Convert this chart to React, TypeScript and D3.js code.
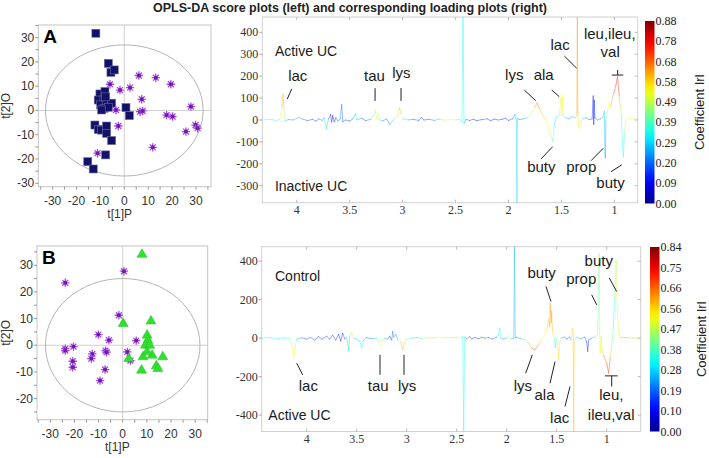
import React from 'react';
import * as d3 from 'd3';

const W = 709;
const H = 458;

// ---------- Score plot data ----------
const squaresA: [number, number][] = [
  [-11.9, 31.8], [-6.7, 19.4], [-5.6, 15.7], [-4.2, 16.7],
  [-10.2, 6.8], [-8.1, 7.8], [-10.9, 4.3], [-8.5, 4.3], [-9.9, 2.3], [-7.4, 3.0],
  [-5.3, 3.0], [-8.5, 0.9], [-6.7, 1.3], [-9.5, 0.2], [-7.8, 5.6],
  [0.7, 1.2], [2.1, -2.1],
  [-12.3, -6.0], [-10.9, -7.8], [-9.5, -8.1], [-7.4, -6.4], [-7.4, -9.4], [-5.3, -12.4],
  [-7.8, -18.3], [-15.3, -21.1], [-13.0, -24.1],
];
const starsA: [number, number][] = [
  [-6.0, 10.8], [-1.8, 8.4], [2.4, 9.4], [6.1, 14.4], [13.2, 13.5], [19.5, 10.8],
  [7.3, 4.6], [-3.5, 0.2], [6.6, -0.5], [7.7, -0.2], [-2.5, -6.4], [17.7, -1.9],
  [20.2, -2.5], [27.9, 1.6], [29.8, -6.0], [30.7, -7.3], [25.8, -8.7], [11.9, -15.2],
  [-11.2, -17.6],
];
const starsB: [number, number][] = [
  [-23.8, 23.4], [0.5, 27.75], [-1.6, 11.25], [-10.1, 4.0], [-5.7, 1.9], [5.6, 1.75],
  [-23.8, -1.25], [-23.8, -2.0], [-20.4, -0.5], [-12.6, -3.25], [-13.0, -5.0],
  [-7.1, -2.0], [-6.7, -2.6], [1.9, -2.5], [-20.7, -6.0], [-20.7, -8.25], [-7.3, -9.1],
  [-9.4, -13.25], [3.2, -5.75],
];
const trianglesB: [number, number][] = [
  [8.0, 34.3], [0.2, 8.4], [11.7, 9.3], [10.1, 4.0], [10.4, 2.1], [9.4, 0.25],
  [11.2, 0.25], [12.2, -3.5], [8.4, -4.1], [7.8, -9.1], [13.9, -7.5], [14.6, -8.5],
  [16.6, -4.1], [2.5, -4.75], [10.1, -2.25],
];
const scoreXTicks = [-30, -20, -10, 0, 10, 20, 30];
const scoreYTicksA = [30, 20, 10, 0, -10, -20, -30];
const scoreYTicksB = [30, 20, 10, 0, -10, -20];

// ---------- Loading data: [ppm, loading, |r|] ----------
const loadingA: [number, number, number][] = [
  [4.32, 0, 0.3], [4.25, 3, 0.35], [4.2, -2, 0.3], [4.16, 2, 0.45], [4.14, 60, 0.6],
  [4.13, 118, 0.65], [4.12, 50, 0.6], [4.11, -5, 0.3], [4.08, 2, 0.25], [4.03, 0, 0.2],
  [3.98, 12, 0.3], [3.95, 5, 0.25], [3.9, -3, 0.15], [3.85, 3, 0.2], [3.82, -5, 0.15],
  [3.79, 5, 0.2], [3.76, -2, 0.2], [3.74, 10, 0.25], [3.72, -40, 0.35], [3.7, 5, 0.2],
  [3.68, 25, 0.15], [3.67, -10, 0.1], [3.66, 20, 0.12], [3.645, -8, 0.1], [3.63, 10, 0.15],
  [3.61, -5, 0.2], [3.59, 3, 0.25], [3.575, 70, 0.2], [3.565, -8, 0.15], [3.54, 0, 0.2],
  [3.5, -5, 0.15], [3.47, 5, 0.2], [3.445, 28, 0.35], [3.43, 0, 0.3], [3.39, 8, 0.2],
  [3.35, -3, 0.15], [3.3, 3, 0.25], [3.275, 20, 0.45], [3.26, 45, 0.5], [3.245, 5, 0.45],
  [3.23, 30, 0.62], [3.215, 0, 0.4], [3.19, -5, 0.2], [3.15, 5, 0.2], [3.12, -20, 0.25],
  [3.09, 0, 0.3], [3.05, 15, 0.5], [3.03, 55, 0.65], [3.015, 30, 0.6], [3.0, 5, 0.4],
  [2.95, 0, 0.25], [2.9, 3, 0.2], [2.85, -2, 0.15], [2.82, 12, 0.15], [2.8, 0, 0.2],
  [2.75, 3, 0.15], [2.7, -2, 0.25], [2.65, 4, 0.3], [2.6, -1, 0.5], [2.55, 3, 0.6],
  [2.5, 0, 0.5], [2.46, 3, 0.3], [2.44, -10, 0.35], [2.43, 480, 0.35], [2.42, -15, 0.3],
  [2.4, 3, 0.2], [2.37, -2, 0.15], [2.33, 3, 0.15], [2.3, -3, 0.12], [2.25, 2, 0.15],
  [2.2, 5, 0.2], [2.17, -3, 0.12], [2.13, 4, 0.15], [2.1, 0, 0.18], [2.06, 3, 0.15],
  [2.03, 8, 0.12], [2.0, -2, 0.15], [1.96, 5, 0.2], [1.94, 25, 0.25], [1.925, -5, 0.3],
  [1.92, -400, 0.3], [1.915, 10, 0.3], [1.9, 2, 0.2], [1.86, 5, 0.2], [1.82, 10, 0.35],
  [1.78, 30, 0.5], [1.75, 60, 0.65], [1.73, 78, 0.7], [1.71, 55, 0.65], [1.68, 25, 0.6],
  [1.65, 0, 0.6], [1.62, -40, 0.5], [1.6, -70, 0.45], [1.58, -98, 0.4], [1.57, -30, 0.35],
  [1.55, 15, 0.3], [1.52, 20, 0.45], [1.505, 100, 0.55], [1.495, 20, 0.5], [1.49, 114, 0.58],
  [1.48, 20, 0.5], [1.46, 10, 0.3], [1.43, 5, 0.2], [1.4, 15, 0.25], [1.37, 10, 0.3],
  [1.355, 20, 0.55], [1.35, 480, 0.7], [1.345, 30, 0.6], [1.335, -40, 0.55], [1.32, -10, 0.5],
  [1.3, 5, 0.3], [1.27, 10, 0.25], [1.24, 2, 0.2], [1.21, 5, 0.15], [1.2, 110, 0.12],
  [1.195, -20, 0.1], [1.19, 90, 0.12], [1.185, 10, 0.15], [1.16, 0, 0.2], [1.13, 5, 0.25],
  [1.11, 10, 0.3], [1.095, 40, 0.3], [1.09, -150, 0.25], [1.085, -173, 0.2], [1.08, 0, 0.3],
  [1.065, 40, 0.55], [1.05, 80, 0.55], [1.035, 60, 0.6], [1.02, 100, 0.65], [1.0, 130, 0.7],
  [0.985, 160, 0.75], [0.97, 198, 0.78], [0.955, 110, 0.7], [0.945, 60, 0.55], [0.935, 20, 0.4],
  [0.925, -100, 0.3], [0.915, -168, 0.35], [0.905, -60, 0.4], [0.89, 0, 0.5], [0.86, 10, 0.55],
  [0.82, 5, 0.5], [0.78, 3, 0.45],
];
const loadingB: [number, number, number][] = [
  [4.45, 0, 0.3], [4.35, 2, 0.35], [4.28, -3, 0.3], [4.22, 2, 0.35], [4.17, -2, 0.3],
  [4.15, -30, 0.5], [4.13, -110, 0.55], [4.12, -60, 0.5], [4.1, -5, 0.3], [4.05, 2, 0.2],
  [4.0, -5, 0.15], [3.96, 3, 0.2], [3.92, -10, 0.15], [3.88, 8, 0.12], [3.85, -5, 0.15],
  [3.8, 10, 0.15], [3.77, -5, 0.12], [3.74, 15, 0.15], [3.71, -10, 0.15], [3.68, 20, 0.12],
  [3.66, -15, 0.1], [3.64, 25, 0.12], [3.62, -5, 0.2], [3.6, 5, 0.3], [3.58, -65, 0.25],
  [3.57, 10, 0.3], [3.55, 30, 0.6], [3.53, 0, 0.3], [3.5, -5, 0.25], [3.47, -15, 0.3],
  [3.45, -50, 0.35], [3.43, -10, 0.3], [3.4, 3, 0.2], [3.35, -3, 0.2], [3.3, 0, 0.3],
  [3.28, -20, 0.45], [3.26, -43, 0.5], [3.24, -10, 0.45], [3.22, 0, 0.3], [3.19, -5, 0.2],
  [3.17, 10, 0.15], [3.15, -10, 0.15], [3.14, 35, 0.2], [3.13, 5, 0.25], [3.11, 20, 0.2],
  [3.09, -5, 0.25], [3.06, -20, 0.5], [3.04, -57, 0.65], [3.02, -20, 0.55], [3.0, -5, 0.4],
  [2.95, 0, 0.3], [2.9, 3, 0.25], [2.85, -2, 0.35], [2.8, 2, 0.5], [2.75, 0, 0.6],
  [2.7, 3, 0.55], [2.65, 0, 0.45], [2.6, 4, 0.5], [2.55, 2, 0.6], [2.5, 5, 0.55],
  [2.46, 0, 0.4], [2.44, 10, 0.35], [2.43, -480, 0.35], [2.42, 5, 0.3], [2.4, -3, 0.2],
  [2.37, 8, 0.15], [2.35, -5, 0.15], [2.32, 3, 0.12], [2.28, -3, 0.15], [2.25, 5, 0.15],
  [2.22, 0, 0.18], [2.18, 3, 0.2], [2.14, -5, 0.15], [2.1, 5, 0.2], [2.08, 20, 0.3],
  [2.07, 52, 0.4], [2.06, 0, 0.3], [2.03, -5, 0.2], [2.0, 0, 0.25], [1.98, 15, 0.6],
  [1.96, -5, 0.3], [1.93, 0, 0.25], [1.92, 480, 0.25], [1.915, 0, 0.25], [1.9, 5, 0.2],
  [1.86, -3, 0.25], [1.82, -8, 0.35], [1.78, -25, 0.55], [1.75, -50, 0.65], [1.72, -62, 0.72],
  [1.69, -40, 0.65], [1.66, -15, 0.55], [1.63, 5, 0.45], [1.6, 40, 0.55], [1.58, 100, 0.6],
  [1.57, 60, 0.55], [1.565, 181, 0.65], [1.555, 80, 0.6], [1.55, 140, 0.62], [1.54, 30, 0.55],
  [1.525, 0, 0.4], [1.515, -50, 0.3], [1.505, 0, 0.35], [1.49, -30, 0.55], [1.48, -112, 0.58],
  [1.47, -20, 0.5], [1.45, 0, 0.3], [1.42, 5, 0.2], [1.4, -5, 0.15], [1.37, 5, 0.2],
  [1.355, -10, 0.3], [1.345, 52, 0.6], [1.335, 20, 0.55], [1.33, -490, 0.6], [1.325, -20, 0.55],
  [1.3, 5, 0.3], [1.26, -3, 0.25], [1.22, 5, 0.2], [1.2, -20, 0.12], [1.19, -69, 0.1],
  [1.18, -10, 0.15], [1.15, 0, 0.25], [1.12, 5, 0.3], [1.09, 20, 0.35], [1.075, 440, 0.45],
  [1.07, 50, 0.5], [1.065, -80, 0.6], [1.055, 10, 0.4], [1.045, -60, 0.55], [1.03, -90, 0.6],
  [1.0, -130, 0.7], [0.98, -182, 0.72], [0.965, -100, 0.65], [0.95, -40, 0.5], [0.935, 50, 0.3],
  [0.92, 200, 0.35], [0.905, 405, 0.5], [0.895, 150, 0.45], [0.88, 30, 0.5], [0.86, 5, 0.6],
  [0.8, 2, 0.6], [0.7, 0, 0.55], [0.65, 0, 0.55],
];
const ppmTicks = [4, 3.5, 3, 2.5, 2, 1.5, 1];
const loadYTicksA = [400, 300, 200, 100, 0, -100, -200, -300];
const loadYTicksB = [400, 200, 0, -200, -400];
const cbLabelsA = ['0.88', '0.78', '0.68', '0.58', '0.49', '0.39', '0.29', '0.20', '0.09', '0.00'];
const cbLabelsB = ['0.84', '0.75', '0.66', '0.56', '0.47', '0.38', '0.28', '0.19', '0.10', '0.00'];
const cbMaxA = 0.88;
const cbMaxB = 0.84;

// annotations in data units: text, ppm, loading, anchor
type Ann = { t: string; x: number; y: number; a?: string };
type Lead = [number, number, number, number];
const textsA: Ann[] = [
  { t: 'Active UC', x: 4.206, y: 294, a: 'start' },
  { t: 'Inactive UC', x: 4.206, y: -324, a: 'start' },
  { t: 'lac', x: 3.99, y: 179 }, { t: 'tau', x: 3.265, y: 178 }, { t: 'lys', x: 3.012, y: 190 },
  { t: 'lac', x: 1.513, y: 320 }, { t: 'leu,ileu,', x: 1.044, y: 370 }, { t: 'val', x: 1.04, y: 289 },
  { t: 'lys', x: 1.946, y: 183 }, { t: 'ala', x: 1.668, y: 183 },
  { t: 'buty', x: 1.69, y: -239 }, { t: 'prop', x: 1.313, y: -239 }, { t: 'buty', x: 1.037, y: -312 },
];
const leadsA: Lead[] = [
  [4.047, 142, 4.089, 96], [3.26, 145, 3.26, 87], [3.015, 146, 3.015, 87],
  [1.473, 292, 1.356, 236], [1.025, 205, 0.916, 205], [0.969, 228, 0.969, 205],
  [1.851, 137, 1.743, 88], [1.592, 137, 1.52, 106],
  [1.693, -178, 1.583, -122], [1.221, -186, 1.105, -129], [1.032, -236, 0.931, -205],
];
const textsB: Ann[] = [
  { t: 'Control', x: 4.317, y: 299, a: 'start' },
  { t: 'Active UC', x: 4.384, y: -424, a: 'start' },
  { t: 'lac', x: 3.984, y: -277 }, { t: 'tau', x: 3.284, y: -277 }, { t: 'lys', x: 2.995, y: -277 },
  { t: 'buty', x: 1.65, y: 312 }, { t: 'prop', x: 1.254, y: 282 }, { t: 'buty', x: 1.079, y: 377 },
  { t: 'lys', x: 1.839, y: -277 }, { t: 'ala', x: 1.622, y: -320 }, { t: 'lac', x: 1.47, y: -442 },
  { t: 'leu,', x: 0.954, y: -320 }, { t: 'ileu,val', x: 0.955, y: -424 },
];
const leadsB: Lead[] = [
  [4.1, -130, 4.04, -191], [3.267, -87, 3.267, -191], [3.027, -87, 3.027, -191],
  [1.607, 268, 1.557, 190], [1.15, 225, 1.1, 173], [0.974, 312, 0.9, 242],
  [1.81, -182, 1.744, -87], [1.567, -234, 1.517, -122], [1.417, -355, 1.367, -251],
  [1.017, -196, 0.89, -196], [0.95, -196, 0.95, -251],
];

const jet = d3
  .scaleLinear<string>()
  .domain([0, 0.125, 0.375, 0.625, 0.875, 1])
  .range(['#00008f', '#0000ff', '#00ffff', '#ffff00', '#ff0000', '#800000'])
  .clamp(true);

const SANS = 'Arial, "Liberation Sans", sans-serif';
const SERIF = '"Times New Roman", "Liberation Serif", serif';
const FRAME = '#c4c4c4';

function Star({ x, y }: { x: number; y: number }) {
  const r = 4.2;
  const spokes = d3.range(8).map((i) => (i * Math.PI) / 4);
  return (
    <g>
      {spokes.map((a, i) => (
        <line key={i} x1={x} y1={y} x2={x + r * Math.cos(a)} y2={y + r * Math.sin(a)} stroke="#a64ee6" strokeWidth={1.3} />
      ))}
      <circle cx={x} cy={y} r={2} fill="#7018b0" />
    </g>
  );
}

function ScorePanel(props: {
  sx: d3.ScaleLinear<number, number>;
  sy: d3.ScaleLinear<number, number>;
  yTicks: number[];
  letter: string;
  rx: number;
  ry: number;
  children: React.ReactNode;
  id: string;
}) {
  const { sx, sy, yTicks, letter, rx, ry, id } = props;
  const [x0, x1] = sx.range();
  const [y0, y1] = sy.range();
  const xMinor = d3.range(-35, 36, 5).filter((v) => sx(v) >= x0 && sx(v) <= x1);
  const yMinor = d3.range(-35, 36, 5).filter((v) => sy(v) >= y0 && sy(v) <= y1);
  return (
    <g>
      <defs>
        <clipPath id={id}>
          <rect x={x0} y={y0} width={x1 - x0} height={y1 - y0} />
        </clipPath>
      </defs>
      <rect x={x0} y={y0} width={x1 - x0} height={y1 - y0} fill="#fff" stroke={FRAME} strokeWidth={1} />
      <line x1={sx(0)} x2={sx(0)} y1={y0} y2={y1} stroke="#cfcfcf" />
      <line x1={x0} x2={x1} y1={sy(0)} y2={sy(0)} stroke="#cfcfcf" />
      <ellipse cx={sx(0)} cy={sy(0)} rx={sx(rx) - sx(0)} ry={sy(0) - sy(ry)} fill="none" stroke="#b5b5b5" strokeWidth={1} />
      {xMinor.map((v) => (
        <line key={'xm' + v} x1={sx(v)} x2={sx(v)} y1={y1} y2={y1 + 3} stroke="#999" />
      ))}
      {yMinor.map((v) => (
        <line key={'ym' + v} x1={x0 - 3} x2={x0} y1={sy(v)} y2={sy(v)} stroke="#999" />
      ))}
      {scoreXTicks.map((v) => (
        <text key={'xt' + v} x={sx(v)} y={y1 + 18} textAnchor="middle" fontFamily={SANS} fontSize={12} fill="#333">
          {v}
        </text>
      ))}
      {yTicks.map((v) => (
        <text key={'yt' + v} x={x0 - 4} y={sy(v) + 4} textAnchor="end" fontFamily={SANS} fontSize={12} fill="#333">
          {v}
        </text>
      ))}
      <text x={(x0 + x1) / 2 - 5} y={y1 + 31} textAnchor="middle" fontFamily={SANS} fontSize={12} fill="#333">
        t[1]P
      </text>
      <text
        transform={`translate(10,${(y0 + y1) / 2}) rotate(-90)`}
        textAnchor="middle"
        fontFamily={SANS}
        fontSize={12}
        fill="#333"
      >
        t[2]O
      </text>
      <g clipPath={`url(#${id})`}>{props.children}</g>
      <text x={x0 + 5} y={y0 + 18} fontFamily={SANS} fontWeight="bold" fontSize={19} fill="#000">
        {letter}
      </text>
    </g>
  );
}

function LoadingPanel(props: {
  sx: d3.ScaleLinear<number, number>;
  sy: d3.ScaleLinear<number, number>;
  data: [number, number, number][];
  cmax: number;
  yTicks: number[];
  texts: Ann[];
  leads: Lead[];
  id: string;
}) {
  const { sx, sy, data, cmax, yTicks, texts, leads, id } = props;
  const [x0, x1] = sx.range();
  const [y0, y1] = sy.range();
  const segs = data.slice(1).map((p, i) => {
    const q = data[i];
    return { x1: sx(q[0]), y1: sy(q[1]), x2: sx(p[0]), y2: sy(p[1]), c: jet((q[2] + p[2]) / 2 / cmax) };
  });
  return (
    <g>
      <defs>
        <clipPath id={id}>
          <rect x={x0} y={y0} width={x1 - x0} height={y1 - y0} />
        </clipPath>
      </defs>
      <rect x={x0} y={y0} width={x1 - x0} height={y1 - y0} fill="#fff" stroke="#d0d0d0" strokeWidth={1} />
      <g clipPath={`url(#${id})`}>
        {segs.map((s, i) => (
          <line key={i} x1={s.x1} y1={s.y1} x2={s.x2} y2={s.y2} stroke={s.c} strokeWidth={1} strokeOpacity={0.42} strokeLinecap="round" />
        ))}
      </g>
      {ppmTicks.map((v) => (
        <g key={'x' + v}>
          <line x1={sx(v)} x2={sx(v)} y1={y0} y2={y0 + 3} stroke="#bbb" />
          <line x1={sx(v)} x2={sx(v)} y1={y1} y2={y1 - 3} stroke="#bbb" />
          <text x={sx(v)} y={y1 + 11} textAnchor="middle" fontFamily={SERIF} fontSize={12} fill="#333">
            {v}
          </text>
        </g>
      ))}
      {yTicks.map((v) => (
        <g key={'y' + v}>
          <line x1={x0 - 3} x2={x0} y1={sy(v)} y2={sy(v)} stroke="#aaa" />
          <line x1={x1} x2={x1 - 3} y1={sy(v)} y2={sy(v)} stroke="#bbb" />
          <text x={x0 - 4} y={sy(v) + 4} textAnchor="end" fontFamily={SERIF} fontSize={12} fill="#333">
            {v}
          </text>
        </g>
      ))}
      {leads.map((l, i) => (
        <line key={'l' + i} x1={sx(l[0])} y1={sy(l[1])} x2={sx(l[2])} y2={sy(l[3])} stroke="#222" strokeWidth={1} />
      ))}
      {texts.map((t, i) => (
        <text
          key={'t' + i}
          x={sx(t.x)}
          y={sy(t.y)}
          textAnchor={t.a || 'middle'}
          fontFamily={SANS}
          fontSize={t.a ? 14 : 15}
          fill="#1a1a1a"
        >
          {t.t}
        </text>
      ))}
    </g>
  );
}

function ColorBar(props: { x: number; y0: number; y1: number; labels: string[]; id: string; titleX: number }) {
  const { x, y0, y1, labels, id, titleX } = props;
  const stops = d3.range(0, 1.0001, 0.05);
  const ly = d3.scaleLinear().domain([0, labels.length - 1]).range([y0, y1]);
  return (
    <g>
      <defs>
        <linearGradient id={id} x1="0" y1="1" x2="0" y2="0">
          {stops.map((s) => (
            <stop key={s} offset={s} stopColor={jet(s)} />
          ))}
        </linearGradient>
      </defs>
      <rect x={x} y={y0} width={9.5} height={y1 - y0} fill={`url(#${id})`} />
      {labels.map((l, i) => (
        <text key={l + i} x={x + 10.5} y={ly(i) + 4} fontFamily={SERIF} fontSize={12} fill="#222">
          {l}
        </text>
      ))}
      <text
        transform={`translate(${titleX},${(y0 + y1) / 2}) rotate(-90)`}
        textAnchor="middle"
        fontFamily={SANS}
        fontSize={13}
        fill="#222"
      >
        Coefficient Irl
      </text>
    </g>
  );
}

export default function App() {
  const sxA = d3.scaleLinear().domain([-36, 36.3]).range([38.3, 211]);
  const syA = d3.scaleLinear().domain([35.2, -31.4]).range([25, 186.7]);
  const sxB = d3.scaleLinear().domain([-35.5, 35.2]).range([37, 207.7]);
  const syB = d3.scaleLinear().domain([37.2, -27.9]).range([246, 419.7]);

  const lxA = d3.scaleLinear().domain([4.325, 0.78]).range([262.3, 637.7]);
  const lyA = d3.scaleLinear().domain([470, -377.6]).range([17, 202.7]);
  const lxB = d3.scaleLinear().domain([4.45, 0.66]).range([261.7, 640.7]);
  const lyB = d3.scaleLinear().domain([475, -485]).range([246.7, 431.5]);

  return (
    <svg
      width={W}
      height={H}
      viewBox={`0 0 ${W} ${H}`}
      style={{ position: 'absolute', left: 0, top: 0, background: '#fff', display: 'block' }}
    >
      <rect width={W} height={H} fill="#fff" />
      <text x={153} y={12} textAnchor="start" fontFamily={SANS} fontWeight="bold" fontSize={12.5} fill="#222">
        OPLS-DA score plots (left) and corresponding loading plots (right)
      </text>

      <ScorePanel sx={sxA} sy={syA} yTicks={scoreYTicksA} letter="A" rx={33} ry={27} id="clipSA">
        {squaresA.map((d, i) => (
          <rect key={i} x={sxA(d[0]) - 4} y={syA(d[1]) - 4} width={8} height={8} fill="#11116a" stroke="#6a6a9a" strokeWidth={0.6} />
        ))}
        {starsA.map((d, i) => (
          <Star key={i} x={sxA(d[0])} y={syA(d[1])} />
        ))}
      </ScorePanel>

      <ScorePanel sx={sxB} sy={syB} yTicks={scoreYTicksB} letter="B" rx={32} ry={25} id="clipSB">
        {starsB.map((d, i) => (
          <Star key={i} x={sxB(d[0])} y={syB(d[1])} />
        ))}
        {trianglesB.map((d, i) => {
          const x = sxB(d[0]);
          const y = syB(d[1]);
          return <path key={i} d={`M${x},${y - 5} L${x + 5},${y + 3.6} L${x - 5},${y + 3.6} Z`} fill="#2fe02f" stroke="#20c020" strokeWidth={0.5} />;
        })}
      </ScorePanel>

      <LoadingPanel sx={lxA} sy={lyA} data={loadingA} cmax={cbMaxA} yTicks={loadYTicksA} texts={textsA} leads={leadsA} id="clipLA" />
      <LoadingPanel sx={lxB} sy={lyB} data={loadingB} cmax={cbMaxB} yTicks={loadYTicksB} texts={textsB} leads={leadsB} id="clipLB" />

      <ColorBar x={645} y0={21} y1={203.5} labels={cbLabelsA} id="gradA" titleX={704} />
      <ColorBar x={650} y0={247} y1={431.5} labels={cbLabelsB} id="gradB" titleX={706} />
    </svg>
  );
}
